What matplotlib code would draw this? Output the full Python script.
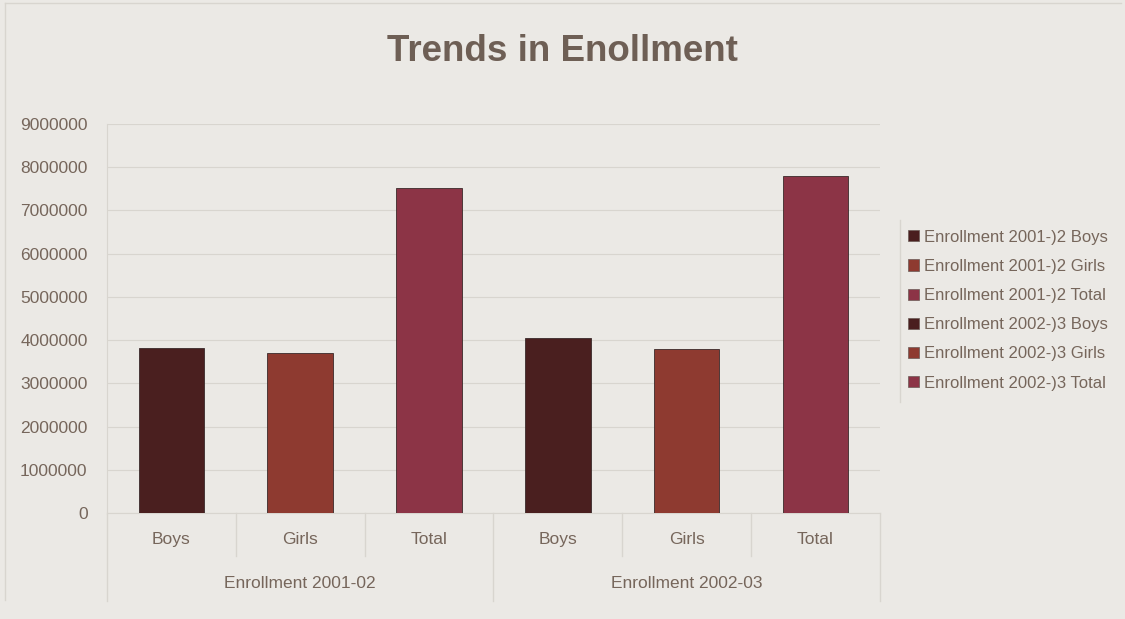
"""
Trends in Enrollment, 2001-02 and 2002-03
"""
import matplotlib.pyplot as plt
from matplotlib.patches import Patch
from matplotlib.transforms import blended_transform_factory

plt.rcParams['font.family'] = ['Liberation Sans', 'DejaVu Sans']

groups = ['Enrollment 2001-02', 'Enrollment 2002-03']
legend_groups = ['Enrollment 2001-)2', 'Enrollment 2002-)3']
categories = ['Boys', 'Girls', 'Total']
enroll_2001 = [3820000, 3700000, 7520000]
enroll_2002 = [4040000, 3790000, 7790000]
y_ticks = [0, 1000000, 2000000, 3000000, 4000000, 5000000,
           6000000, 7000000, 8000000, 9000000]

BG = '#ebe9e5'
TEXT = '#76665b'
LINE = '#d8d5cf'
colours = ['#4a1f1f', '#8e3a30', '#8c3446']

fig = plt.figure(figsize=(11.25, 6.19), dpi=100, facecolor=BG)
ax = fig.add_axes([0.0951, 0.1712, 0.687, 0.6284], facecolor=BG)

values = [enroll_2001, enroll_2002]
handles = []
pos = 0
for g, series in enumerate(values):
    for c, val in enumerate(series):
        ax.bar(pos, val, width=0.51, color=colours[c],
               edgecolor='#3a2a2a', linewidth=0.6, zorder=3)
        handles.append(Patch(facecolor=colours[c], edgecolor='#6a5a55',
                             linewidth=0.5,
                             label=f'{legend_groups[g]} {categories[c]}'))
        pos += 1

n_bars = len(categories) * len(groups)
ax.set_xlim(-0.5, n_bars - 0.5)
ax.set_ylim(0, 9000000)
ax.set_yticks(y_ticks)
ax.set_yticklabels([str(t) for t in y_ticks])
ax.grid(axis='y', color=LINE, linewidth=0.8, zorder=0)
ax.tick_params(axis='y', length=0, pad=14, labelsize=12.5, labelcolor=TEXT)

ax.set_xticks(range(n_bars))
ax.set_xticklabels(categories * len(groups))
ax.tick_params(axis='x', length=0, pad=14, labelsize=12.5, labelcolor=TEXT)

for side in ['top', 'right']:
    ax.spines[side].set_visible(False)
ax.spines['left'].set_color(LINE)
ax.spines['bottom'].set_color(LINE)

# category axis dividers under the plot
trans = blended_transform_factory(ax.transData, ax.transAxes)
for i in range(n_bars + 1):
    x = i - 0.5
    bottom = -0.225 if i % len(categories) == 0 else -0.11
    ax.plot([x, x], [0, bottom], transform=trans, color=LINE,
            linewidth=1, clip_on=False)
for g, name in enumerate(groups):
    centre = g * len(categories) + (len(categories) - 1) / 2
    ax.text(centre, -0.18, name, transform=trans, ha='center', va='center',
            fontsize=12.5, color=TEXT)

fig.text(0.5, 0.9015, 'Trends in Enollment', ha='center', va='baseline',
         fontsize=26.5, fontweight='bold', color='#6e5f55')

leg = fig.legend(handles=handles, loc='center left',
                 bbox_to_anchor=(0.797, 0.499), frameon=False,
                 fontsize=12, handlelength=0.65, handleheight=0.65,
                 handletextpad=0.3, labelspacing=0.85, borderpad=0.2)
for t in leg.get_texts():
    t.set_color(TEXT)
fig.add_artist(plt.Line2D([0.8, 0.8], [0.35, 0.645], color=LINE,
                          linewidth=1))

# faint outer frame of the chart
fig.add_artist(plt.Line2D([0.004, 0.996], [0.995, 0.995], color=LINE,
                          linewidth=1))
fig.add_artist(plt.Line2D([0.004, 0.004], [0.03, 0.995], color=LINE,
                          linewidth=1))

fig.savefig('out.png', dpi=100, facecolor=BG)
